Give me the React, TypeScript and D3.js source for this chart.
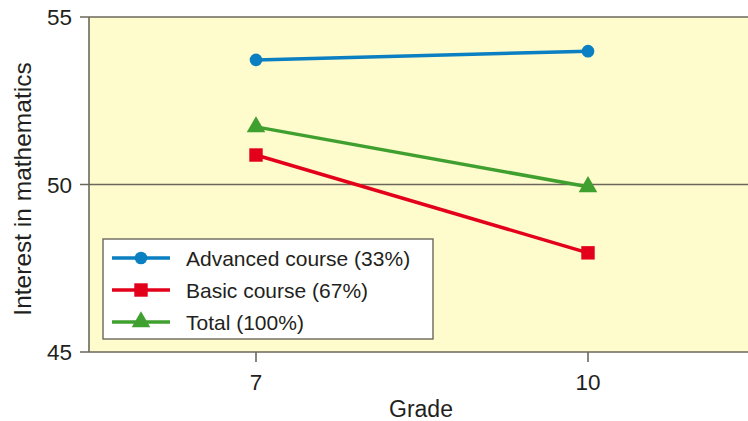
import { useEffect, useRef } from "react";
import * as d3 from "d3";

const grades = [7, 10];
const advanced = [53.72, 53.98];
const basic = [50.88, 47.96];
const total = [51.72, 49.93];
const yTicks = [45, 50, 55];

const seriesNames = ["Advanced course (33%)", "Basic course (67%)", "Total (100%)"];
const seriesColors = ["#0a7fc2", "#e3001b", "#40a02f"];
const seriesSymbols = [d3.symbolCircle, d3.symbolSquare, d3.symbolTriangle];

export default function App() {
  const svgRef = useRef<SVGSVGElement | null>(null);

  useEffect(() => {
    if (!svgRef.current) return;
    const svg = d3.select(svgRef.current);
    svg.selectAll("*").remove();

    const width = 748;
    const height = 421;
    const left = 89;
    const top = 17;
    const bottom = 352;
    const axisColor = "#6b675c";
    const textColor = "#231f20";
    const font = "'Liberation Sans', Arial, sans-serif";
    const markerSizes = [125, 180, 150];

    const x = d3.scaleLinear().domain([7, 10]).range([256, 588]);
    const y = d3.scaleLinear().domain([45, 55]).range([bottom, top]);

    svg.attr("width", width).attr("height", height);

    // plot background
    svg.append("rect")
      .attr("x", left)
      .attr("y", top)
      .attr("width", width - left)
      .attr("height", bottom - top)
      .attr("fill", "#fefbcc");

    // horizontal lines at ticks
    svg.selectAll("line.grid")
      .data(yTicks)
      .enter()
      .append("line")
      .attr("x1", left - 9)
      .attr("x2", width)
      .attr("y1", (d) => y(d))
      .attr("y2", (d) => y(d))
      .attr("stroke", axisColor)
      .attr("stroke-width", 1.6);

    svg.append("line")
      .attr("x1", left)
      .attr("x2", left)
      .attr("y1", top)
      .attr("y2", bottom)
      .attr("stroke", axisColor)
      .attr("stroke-width", 1.6);

    svg.selectAll("text.ytick")
      .data(yTicks)
      .enter()
      .append("text")
      .attr("x", 72)
      .attr("y", (d) => y(d))
      .attr("dy", "0.36em")
      .attr("text-anchor", "end")
      .attr("font-family", font)
      .attr("font-size", 22.5)
      .attr("fill", textColor)
      .text((d) => d);

    // x ticks
    svg.selectAll("line.xtick")
      .data(grades)
      .enter()
      .append("line")
      .attr("x1", (d) => x(d))
      .attr("x2", (d) => x(d))
      .attr("y1", bottom)
      .attr("y2", bottom + 10)
      .attr("stroke", axisColor)
      .attr("stroke-width", 1.6);

    svg.selectAll("text.xtick")
      .data(grades)
      .enter()
      .append("text")
      .attr("x", (d) => x(d))
      .attr("y", 382)
      .attr("dy", "0.36em")
      .attr("text-anchor", "middle")
      .attr("font-family", font)
      .attr("font-size", 22.5)
      .attr("fill", textColor)
      .text((d) => d);

    svg.append("text")
      .attr("x", 421)
      .attr("y", 409)
      .attr("dy", "0.36em")
      .attr("text-anchor", "middle")
      .attr("font-family", font)
      .attr("font-size", 23)
      .attr("fill", textColor)
      .text("Grade");

    svg.append("text")
      .attr("transform", `translate(22, 189) rotate(-90)`)
      .attr("dy", "0.36em")
      .attr("text-anchor", "middle")
      .attr("font-family", font)
      .attr("font-size", 24.5)
      .attr("fill", textColor)
      .text("Interest in mathematics");

    const allSeries = [advanced, basic, total];
    const line = d3.line<number>()
      .x((_, i) => x(grades[i]))
      .y((d) => y(d));

    allSeries.forEach((vals, si) => {
      svg.append("path")
        .attr("d", line(vals)!)
        .attr("fill", "none")
        .attr("stroke", seriesColors[si])
        .attr("stroke-width", 3.5);
      svg.selectAll(`path.m${si}`)
        .data(vals)
        .enter()
        .append("path")
        .attr("d", d3.symbol().type(seriesSymbols[si]).size(markerSizes[si])()!)
        .attr("transform", (d, i) => `translate(${x(grades[i])}, ${y(d)})`)
        .attr("fill", seriesColors[si]);
    });

    // legend
    const lg = svg.append("g").attr("transform", "translate(103, 239)");
    lg.append("rect")
      .attr("width", 330)
      .attr("height", 100)
      .attr("fill", "#ffffff")
      .attr("stroke", axisColor)
      .attr("stroke-width", 1.4);
    seriesNames.forEach((name, i) => {
      const cy = 19 + i * 32;
      lg.append("line")
        .attr("x1", 9)
        .attr("x2", 67)
        .attr("y1", cy)
        .attr("y2", cy)
        .attr("stroke", seriesColors[i])
        .attr("stroke-width", 3.5);
      lg.append("path")
        .attr("d", d3.symbol().type(seriesSymbols[i]).size(markerSizes[i])()!)
        .attr("transform", `translate(38, ${cy})`)
        .attr("fill", seriesColors[i]);
      lg.append("text")
        .attr("x", 83)
        .attr("y", cy)
        .attr("dy", "0.36em")
        .attr("font-family", font)
        .attr("font-size", 21)
        .attr("fill", textColor)
        .text(name);
    });
  }, []);

  return (
    <svg
      ref={svgRef}
      style={{ position: "absolute", left: 0, top: 0, display: "block" }}
    />
  );
}
